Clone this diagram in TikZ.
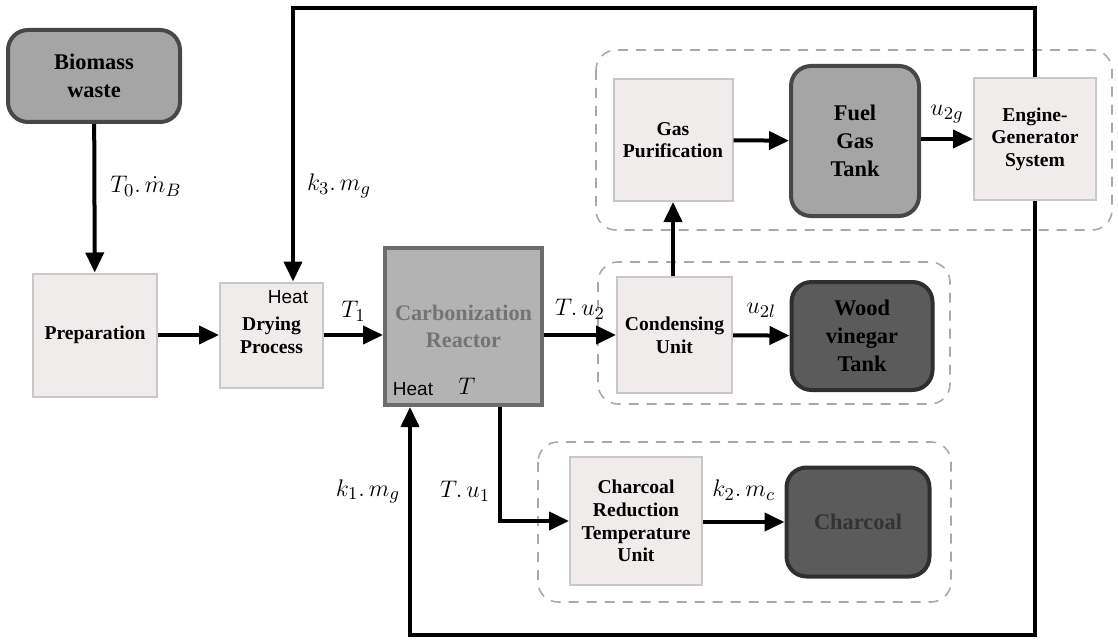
\documentclass[tikz,border=0pt]{standalone}
\usepackage{fontspec}
\setmainfont{Liberation Serif}
\newfontfamily\heatfont{Liberation Sans}
\usetikzlibrary{arrows.meta,positioning}

\definecolor{boxfill}{HTML}{EFECEB}
\definecolor{boxline}{HTML}{C9C7C7}
\definecolor{midgray}{HTML}{A5A5A5}
\definecolor{midline}{HTML}{474747}
\definecolor{reacfill}{HTML}{B4B3B3}
\definecolor{reacline}{HTML}{6C6C6C}
\definecolor{reactext}{HTML}{747474}
\definecolor{darkfill}{HTML}{5B5B5B}
\definecolor{darkline}{HTML}{2F2F2F}
\definecolor{coaltext}{HTML}{333333}
\definecolor{grpline}{HTML}{A9A9A9}

\begin{document}
\begin{tikzpicture}[x=0.5pt,y=-0.5pt]

 \tikzset{
   unitbox/.style={draw=boxline,line width=1pt,fill=boxfill,inner sep=0pt,
     align=center,font=\bfseries\fontsize{9.8}{11.3}\selectfont},
   tankbox/.style={draw=darkline,line width=2pt,rounded corners=10pt,
     inner sep=0pt,align=center,font=\bfseries\fontsize{11.2}{14}\selectfont},
   grpbox/.style={draw=grpline,line width=0.8pt,dash pattern=on 5pt off 4pt,
     rounded corners=10pt},
   flow/.style={line width=2pt,-{Triangle[length=10pt,width=9pt]}},
   heatlbl/.style={font=\heatfont\fontsize{9.5}{11}\selectfont,inner sep=0pt},
   varlbl/.style={font=\fontsize{13}{15}\selectfont,inner sep=1pt},
 }

 \useasboundingbox (0,0) rectangle (1118,642);

 % dashed groups
 \draw[grpbox] (596,50) rectangle (1112,230);
 \draw[grpbox] (598,262) rectangle (950,404);
 \draw[grpbox] (538,442) rectangle (951,602);

 % feed line
 \node[tankbox,fill=midgray,draw=midline,minimum width=86pt,minimum height=46pt]
   (biomass) at (94,76) {Biomass\\waste};
 \node[unitbox,minimum width=62pt,minimum height=61.5pt] (prep) at (95,335) {Preparation};
 \node[unitbox,minimum width=51.5pt,minimum height=52.5pt] (dry) at (271.5,335) {Drying\\Process};
 \node[heatlbl] (dryheat) at (288,297) {Heat};

 \node[draw=reacline,line width=2pt,fill=reacfill,text=reactext,inner sep=0pt,
   align=center,font=\bfseries\fontsize{11.1}{13.5}\selectfont,
   minimum width=78.5pt,minimum height=78.5pt] (reactor) at (463.5,326.5)
   {Carbonization\\Reactor};
 \node[heatlbl] (reacheat) at (413,389) {Heat};
 \node[varlbl] (reactemp) at (467,386) {$T$};

 % liquid and gas side
 \node[unitbox,minimum width=57.5pt,minimum height=58pt] (cond) at (674.5,335) {Condensing\\Unit};
 \node[tankbox,fill=darkfill,minimum width=70.5pt,minimum height=54pt] (wood) at (862,336)
   {Wood\\vinegar\\Tank};
 \node[unitbox,minimum width=59.5pt,minimum height=61pt] (gas) at (673,140) {Gas\\Purification};
 \node[tankbox,fill=midgray,draw=midline,minimum width=64pt,minimum height=75pt] (fuel) at (855,141)
   {Fuel\\Gas\\Tank};
 \node[unitbox,minimum width=61pt,minimum height=61pt] (engine) at (1035,139)
   {Engine-\\Generator\\System};

 % solid side
 \node[unitbox,minimum width=66pt,minimum height=64pt] (charred) at (636,521)
   {Charcoal\\Reduction\\Temperature\\Unit};
 \node[tankbox,fill=darkfill,text=coaltext,minimum width=71.5pt,minimum height=54.5pt]
   (charcoal) at (858,522) {Charcoal};

 \coordinate (k3top) at (293,8);
 \coordinate (k1bot) at (410,635);
 \coordinate (u1out) at (500,0);

 \draw[flow] (biomass) -- node[varlbl,pos=0.42,right=6pt] {$T_0.\,\dot{m}_B$} (prep);
 \draw[flow] (prep) -- (dry);
 \draw[flow] (dry.east) -- node[varlbl,above=5pt] {$T_1$} (dry.east -| reactor.west);
 \draw[flow] (reactor.east |- cond.west) -- node[varlbl,above=6pt] {$T.\,u_2$} (cond.west);
 \draw[flow] (cond) -- node[varlbl,above=7pt] {$u_{2l}$} (wood);
 \draw[flow] (gas.south |- cond.north) -- (gas.south);
 \draw[flow] (gas) -- (fuel);
 \draw[flow] (fuel.east |- engine.west) -- node[varlbl,above=6pt] {$u_{2g}$} (engine.west);

 % recycle loops
 \draw[flow] (engine.north) |- (k3top)
   -- node[varlbl,pos=0.65,right=5pt] {$k_3.\,m_g$} (k3top |- dry.north);
 \draw[flow] (engine.south) |- (k1bot)
   -- node[varlbl,pos=0.63,left=3pt] {$k_1.\,m_g$} (k1bot |- reactor.south);

 \draw[flow] (reactor.south -| u1out) |- node[varlbl,pos=0.37,left=3pt] {$T.\,u_1$} (charred.west);
 \draw[flow] (charred.east |- charcoal.west) -- node[varlbl,above=9pt] {$k_2.\,m_c$} (charcoal.west);

\end{tikzpicture}
\end{document}
